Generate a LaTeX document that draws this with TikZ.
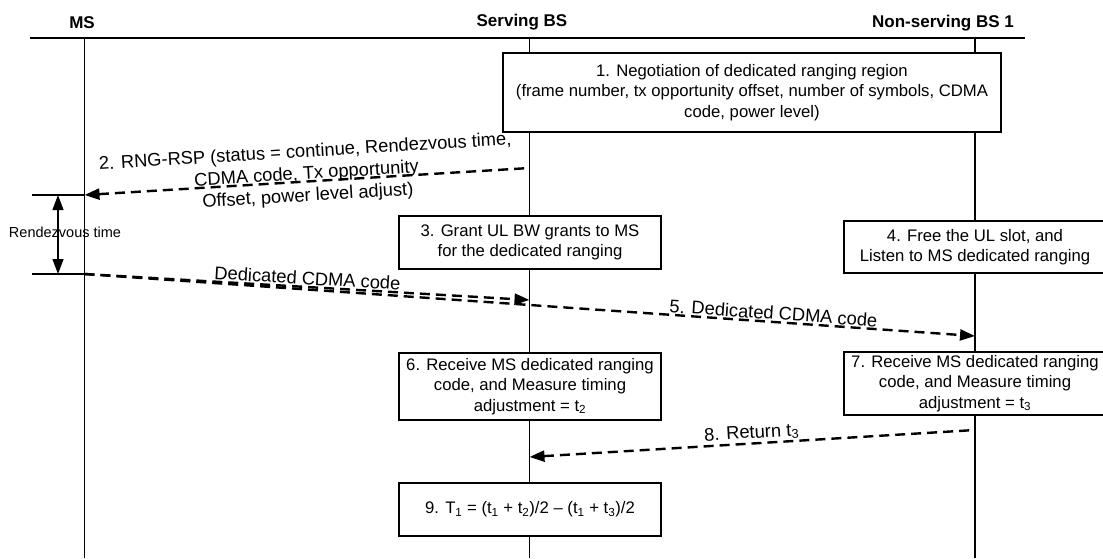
\documentclass[tikz,border=0pt]{standalone}
\usepackage{fontspec}
\setmainfont{Liberation Sans}
\usetikzlibrary{arrows.meta}

\begin{document}
\begin{tikzpicture}[x=1pt, y=-1pt, >={Triangle[length=15pt, width=11pt]},
    life/.style={line width=1.2pt},
    box/.style={draw, fill=white, line width=1.3pt, minimum width=262pt, minimum height=53pt, inner sep=2pt, align=center, font=\fontsize{16.7}{20.5}\selectfont},
    head/.style={font=\fontsize{17}{20}\selectfont\bfseries},
    msg/.style={line width=2.4pt, dash pattern=on 10pt off 6pt},
    lbl/.style={sloped, font=\fontsize{18.3}{22}\selectfont, align=center, inner sep=1pt}]
    \useasboundingbox (0,0) rectangle (1103,558);
    \node[head] (ms) at (82,23) {MS};
    \node[head] (sbs) at (522,22) {Serving BS};
    \node[head] (nbs) at (943,23) {Non-serving BS 1};
    \draw[life] (30,38) -- (1025,38);
    \foreach \n/\x in {ms/84.5, sbs/529.5, nbs/975} {
      \coordinate (\n-top) at (\x,38);
      \draw[life] (\n-top) -- (\x,558);
    }
    \coordinate (ms-a) at (84.5,195);
    \coordinate (ms-b) at (84.5,274);
    \coordinate (sbs-a) at (529.5,168);
    \coordinate (sbs-b) at (529.5,300);
    \coordinate (sbs-c) at (529.5,457);
    \coordinate (nbs-a) at (975,336);
    \coordinate (nbs-b) at (975,430);
    \coordinate (rv-a) at (32,195);
    \coordinate (rv-b) at (32,274);
    \draw[life] (rv-a) -- (ms-a);
    \draw[life] (rv-b) -- (ms-b);
    \draw[life, <->] ([xshift=26pt]rv-a) -- ([xshift=26pt]rv-b);
    \node[font=\fontsize{14.5}{17}\selectfont] (rv) at (65,232) {Rendezvous time};
    \node[box, minimum width=498pt, minimum height=79pt] (b1) at (752,92.5) {1. Negotiation of dedicated ranging region\\(frame number, tx opportunity offset, number of symbols, CDMA\\code, power level)};
    \node[box] (b3) at (530,242.5) {3. Grant UL BW grants to MS\\for the dedicated ranging};
    \node[box, minimum height=52pt] (b4) at (975,247) {4. Free the UL slot, and\\Listen to MS dedicated ranging};
    \node[box, minimum height=67pt] (b6) at (530,386.5) {6. Receive MS dedicated ranging\\code, and Measure timing\\adjustment = t\textsubscript{2}};
    \node[box, minimum height=63pt] (b7) at (975,383.5) {7. Receive MS dedicated ranging\\code, and Measure timing\\adjustment = t\textsubscript{3}};
    \node[box] (b9) at (530,509.5) {9. T\textsubscript{1} = (t\textsubscript{1} + t\textsubscript{2})/2 – (t\textsubscript{1} + t\textsubscript{3})/2};
    \draw[msg, <-] (ms-a) -- node[lbl, yshift=7pt] {2. RNG-RSP (status = continue, Rendezvous time,\\CDMA code, Tx opportunity\\Offset, power level adjust)} (sbs-a);
    \draw[msg, ->] (ms-b) -- node[lbl, above] {Dedicated CDMA code} (sbs-b);
    \draw[msg, ->] (ms-b) -- node[lbl, above, pos=0.773] {5. Dedicated CDMA code} (nbs-a);
    \draw[msg, <-] (sbs-c) -- node[lbl, above] {8. Return t\textsubscript{3}} (nbs-b);
\end{tikzpicture}
\end{document}
